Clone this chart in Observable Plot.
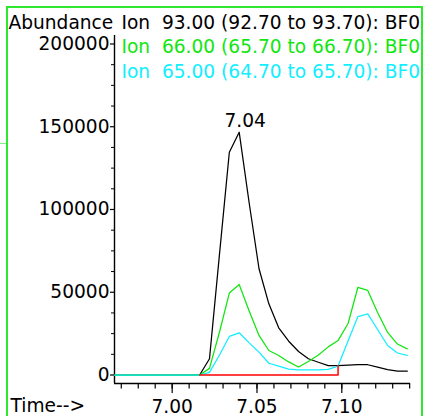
<!DOCTYPE html>
<html><head><meta charset="utf-8">
<script src="https://cdn.jsdelivr.net/npm/d3@7"></script>
<script src="https://cdn.jsdelivr.net/npm/@observablehq/plot@0.6"></script>
<style>
html,body{margin:0;padding:0;background:#fff;}
#wrap{position:relative;width:425px;height:416px;overflow:hidden;background:#fff;}
#wrap svg{position:absolute;left:0;top:0;}
.g{position:absolute;background:#2de82d;}
</style></head><body>
<div id="wrap">
<div class="g" style="left:6px;top:6px;width:417px;height:1.5px"></div>
<div class="g" style="left:6px;top:6px;width:1.5px;height:410px"></div>
<div class="g" style="left:421px;top:6px;width:1.5px;height:410px"></div>
<div class="g" style="left:0px;top:143px;width:7px;height:1px;opacity:0.6"></div>
</div>
<script>
// Retention times (min)
const times = [6.966, 7.0162, 7.0220, 7.0279, 7.0337, 7.0395, 7.0454, 7.0512, 7.0570, 7.0628, 7.0687, 7.0745, 7.0803, 7.0862, 7.0920, 7.0978, 7.1037, 7.1095, 7.1153, 7.1211, 7.1270, 7.1328, 7.1386];
// Abundances
const ion93 = [0, 0, 9800, 73000, 134600, 146700, 103900, 64200, 43000, 28500, 20400, 14200, 9800, 7700, 5700, 5700, 6000, 6300, 6200, 4800, 3300, 2300, 2300];
const ion66 = [0, 0, 4000, 26000, 49500, 54700, 38700, 23900, 14800, 11800, 7900, 4800, 8200, 12100, 17000, 20800, 31100, 53000, 51100, 37800, 25700, 18700, 15800];
const ion65 = [0, 0, 1600, 12100, 23300, 25500, 19400, 13800, 7100, 5400, 3600, 3100, 3100, 3100, 3400, 5400, 20500, 35300, 36900, 27500, 17800, 13300, 11800];
// Integration baseline (red)
const baseTimes = [7.0162, 7.0978, 7.0978];
const baseValues = [0, 0, 5700];

const seriesNames = ["Ion\u00a0\u00a093.00 (92.70 to 93.70): BF0", "Ion\u00a0\u00a066.00 (65.70 to 66.70): BF0", "Ion\u00a0\u00a065.00 (64.70 to 65.70): BF0"];
const seriesColors = ["#000000", "#11e611", "#11eeff"];
const baseColor = "#ff0000";

const xDomain = [6.966, 7.1405];
const yDomain = [-5136, 205126];
const xMinorTicks = [6.97, 6.98, 6.99, 7.00, 7.01, 7.02, 7.03, 7.04, 7.05, 7.06, 7.07, 7.08, 7.09, 7.10, 7.11, 7.12, 7.13, 7.14];
const xMajorTicks = [7.00, 7.05, 7.10];
const yMajorTicks = [0, 50000, 100000, 150000, 200000];
const yMinorTicks = [12500, 25000, 37500, 62500, 75000, 87500, 112500, 125000, 137500, 162500, 175000, 187500];
const yLabel = "Abundance";
const xLabel = "Time-->";

const FS = 18.6;
const rows = (vals) => times.map((t, i) => ({t, v: vals[i]}));
const d93 = rows(ion93), d66 = rows(ion66), d65 = rows(ion65);
const dBase = baseTimes.map((t, i) => ({t, v: baseValues[i]}));
const peakIdx = d3.maxIndex(ion93);
const peak = [{t: times[peakIdx], v: ion93[peakIdx]}];

const legendOffsets = [-6.5, 17.8, 42.2];
const legendMarks = seriesNames.map((name, i) =>
  Plot.text([name], {frameAnchor: "top-left", dx: 7, dy: legendOffsets[i], textAnchor: "start", lineAnchor: "bottom", fontSize: FS, fill: seriesColors[i]})
);

const plot = Plot.plot({
  width: 425, height: 416,
  marginLeft: 114, marginRight: 15, marginTop: 35, marginBottom: 33,
  style: {fontFamily: "'DejaVu Sans', sans-serif", fontSize: FS + "px", background: "transparent", color: "#000"},
  x: {domain: xDomain, label: null},
  y: {domain: yDomain, label: null},
  marks: [
    Plot.ruleX([xDomain[0]], {stroke: "#000", strokeWidth: 1.4}),
    Plot.ruleY([yDomain[0]], {stroke: "#000", strokeWidth: 1.4}),
    Plot.axisX(xMinorTicks, {tickSize: 5.5, tickFormat: () => "", label: null, strokeWidth: 1.2}),
    Plot.axisX(xMajorTicks, {tickSize: 10, tickPadding: 6, tickFormat: d3.format(".2f"), label: null, fontSize: FS, strokeWidth: 1.2}),
    Plot.axisY(yMinorTicks, {tickSize: 3, tickFormat: () => "", label: null}),
    Plot.axisY(yMajorTicks, {tickSize: 4, tickPadding: 1, tickFormat: d3.format("d"), label: null, fontSize: FS, strokeWidth: 1.2}),
    Plot.line(d93, {x: "t", y: "v", stroke: seriesColors[0], strokeWidth: 1.25}),
    Plot.line(d66, {x: "t", y: "v", stroke: seriesColors[1], strokeWidth: 1.25}),
    Plot.line(d65, {x: "t", y: "v", stroke: seriesColors[2], strokeWidth: 1.25}),
    Plot.line(dBase, {x: "t", y: "v", stroke: baseColor, strokeWidth: 1.5}),
    Plot.text(peak, {x: "t", y: "v", text: d => d3.format(".2f")(d.t), dx: 6, dy: -5.5, lineAnchor: "bottom", fontSize: FS, fill: "#000"}),
    Plot.text([yLabel], {frameAnchor: "top-left", dx: -106, dy: -6.5, textAnchor: "start", lineAnchor: "bottom", fontSize: FS, fill: "#000"}),
    Plot.text([xLabel], {frameAnchor: "bottom-left", dx: -104, dy: 28.7, textAnchor: "start", lineAnchor: "bottom", fontSize: FS, fill: "#000"}),
    ...legendMarks
  ]
});
document.getElementById("wrap").appendChild(plot);
</script>
</body></html>
